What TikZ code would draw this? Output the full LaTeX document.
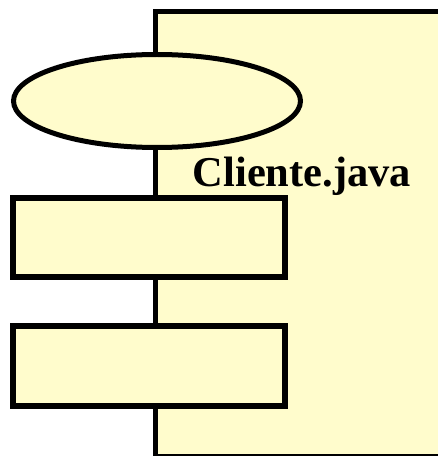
\documentclass[tikz,border=0pt]{standalone}
\usepackage{fontspec}
\setmainfont{Liberation Serif}
\usetikzlibrary{shapes.geometric}
\definecolor{pale}{RGB}{255,252,204}
\begin{document}
\begin{tikzpicture}[x=1pt,y=1pt,
  shapebox/.style={draw=black,fill=pale,line width=5.5pt,inner sep=0pt,outer sep=0pt,rectangle},
  oval/.style={draw=black,fill=pale,line width=5pt,ellipse,inner sep=0pt,outer sep=0pt}]
\useasboundingbox (0,0) rectangle (438,456);
\clip (0,0) rectangle (438,456);
\node[draw=black,fill=pale,line width=5pt,rectangle,inner sep=0pt,outer sep=0pt,
  minimum width=300pt,minimum height=445pt,anchor=north west] (klass) at (155.5,444.5) {};
\node[oval,minimum width=287pt,minimum height=93pt] (start) at (157,355) {};
\node[shapebox,minimum width=272pt,minimum height=79pt] (act1) at (149,218.5) {};
\node[shapebox,minimum width=272pt,minimum height=80pt] (act2) at (149,90) {};
\node[anchor=base west,inner sep=0pt,font=\bfseries\fontsize{42.5}{48}\selectfont] (title) at (192.5,269) {Cliente.java};
\end{tikzpicture}
\end{document}
